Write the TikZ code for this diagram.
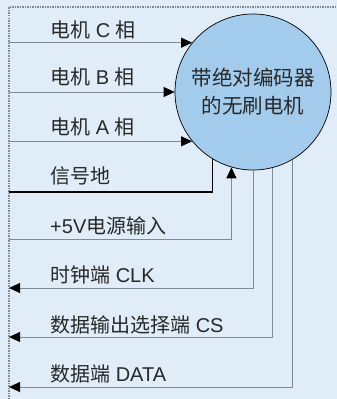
\documentclass[tikz,border=0pt]{standalone}
\usepackage{fontspec}
\setmainfont{Liberation Sans}
\newfontfamily\cjk{Noto Sans CJK SC}
\usepackage{xcolor}
\usetikzlibrary{arrows.meta, positioning, calc}
\definecolor{pagebg}{RGB}{224, 236, 247}
\definecolor{motorfill}{RGB}{163, 203, 236}
\definecolor{wirecolor}{RGB}{128, 138, 148}
\definecolor{textcolor}{RGB}{40, 40, 40}

\tikzset{
  wire/.style={draw=wirecolor, line width=0.9pt},
  gndwire/.style={draw=black, line width=1.6pt},
  tip/.style={-{Triangle[length=11pt, width=10pt, color=black]}},
  lbl/.style={anchor=west, inner sep=0pt, text=textcolor, font=\fontsize{20}{24}\selectfont},
}

\begin{document}
\begin{tikzpicture}[x=1pt, y=-1pt]
  % background and frame
  \fill[pagebg] (0,0) rectangle (337,399);
  \useasboundingbox (0,0) rectangle (337,399);
  \draw[wirecolor, densely dotted, line width=1.5pt] (9,399) -- (9,7) -- (337,7);

  % Motor
  \node[circle, draw, line width=0.7pt, fill=motorfill, minimum size=156pt, inner sep=0pt, align=center,
        text=textcolor, font=\cjk\fontsize{20.5}{28}\selectfont] (motor) at (253,92)
        {带绝对编码器\\的无刷电机};

  % free ends on the frame
  \coordinate (inc) at (9,0 |- motor.141);
  \coordinate (inb) at (9,0 |- motor.west);
  \coordinate (ina) at (9,0 |- motor.219);
  \coordinate (gnd) at (9,192);
  \coordinate (vcc) at (9,239);
  \coordinate (clk) at (9,288);
  \coordinate (cs) at (9,337);
  \coordinate (data) at (9,387);

  % Labels
  \node[lbl] (lc) at (50,30) {{\cjk 电机} C {\cjk 相}};
  \node[lbl] (lb) at (50,77) {{\cjk 电机} B {\cjk 相}};
  \node[lbl] (la) at (50,127) {{\cjk 电机} A {\cjk 相}};
  \node[lbl] (lgnd) at (50,176) {\cjk 信号地};
  \node[lbl] (lvcc) at (50,226) {+5V{\cjk 电源输入}};
  \node[lbl] (lclk) at (50,275) {{\cjk 时钟端} CLK};
  \node[lbl] (lcs) at (50,325) {{\cjk 数据输出选择端} CS};
  \node[lbl] (ldata) at (50,374) {{\cjk 数据端} DATA};

  % Wires
  \draw[wire, tip] (inc) -- (motor.141);
  \draw[wire, tip] (inb) -- (motor.west);
  \draw[wire, tip] (ina) -- (motor.219);
  \draw[gndwire] (gnd) -| (motor.239);
  \draw[wire, tip] (vcc) -| (motor.254);
  \draw[wire, tip] (motor.south) |- (clk);
  \draw[wire, tip] (motor.284) |- (cs);
  \draw[wire, tip] (motor.300) |- (data);
\end{tikzpicture}
\end{document}
